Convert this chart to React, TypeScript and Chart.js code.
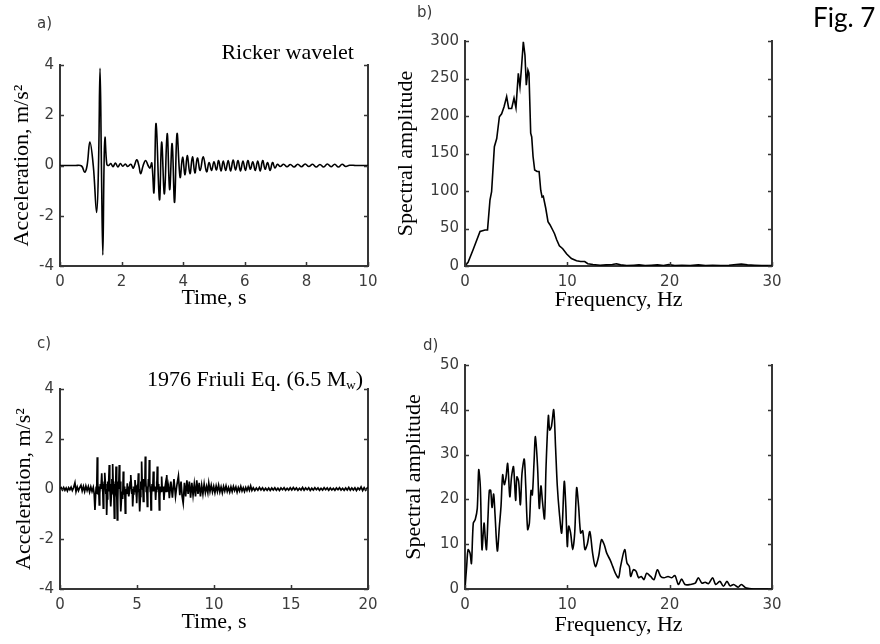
import React, { useEffect, useRef } from "react";
import { Chart, registerables } from "chart.js";

Chart.register(...registerables);

// ---------- DATA ----------
// a) Ricker wavelet acceleration [time s, acceleration m/s²]
const rickerAccel: number[][] = [
  [0, 0], [0.5, 0], [0.7, -0.02], [0.8, -0.27], [0.88, 0], [0.97, 0.93], [1.08, 0], [1.19, -1.87], [1.25, 0], [1.3, 3.87],
  [1.345, 0], [1.39, -3.56], [1.43, 0], [1.46, 1.13], [1.52, 0.05], [1.58, 0], [1.65, 0.08], [1.72, -0.05], [1.8, 0.1], [1.88, -0.06],
  [1.96, 0.08], [2.04, -0.03], [2.12, 0.06], [2.2, -0.04], [2.3, 0.05], [2.38, -0.1], [2.49, 0.23], [2.56, 0], [2.62, -0.33], [2.7, 0],
  [2.78, 0.2], [2.86, 0], [2.92, -0.1], [2.98, 0.1], [3.05, -1.07], [3.12, 1.67], [3.23, -1.36], [3.3, 0.93], [3.39, -1.13], [3.48, 1.27],
  [3.56, -0.96], [3.64, 0.87], [3.72, -1.47], [3.8, 1.27], [3.9, -0.47], [3.98, 0.33], [4.06, -0.37], [4.13, 0.4], [4.22, -0.33], [4.3, 0.35],
  [4.38, -0.3], [4.46, 0.3], [4.55, -0.2], [4.65, 0.35], [4.76, -0.25], [4.84, 0.12], [4.92, -0.2], [5.0, 0.15], [5.08, -0.18], [5.15, 0.2],
  [5.23, -0.22], [5.3, 0.18], [5.38, -0.2], [5.46, 0.2], [5.54, -0.22], [5.62, 0.22], [5.7, -0.18], [5.78, 0.2], [5.86, -0.22], [5.94, 0.18],
  [6.02, -0.2], [6.1, 0.2], [6.18, -0.15], [6.26, 0.15], [6.34, -0.2], [6.42, 0.18], [6.5, -0.22], [6.58, 0.2], [6.66, -0.15], [6.74, 0.12],
  [6.82, -0.2], [6.9, 0.12], [6.98, -0.1], [7.06, 0.05], [7.15, -0.04], [7.26, 0.05], [7.37, -0.05], [7.48, 0.04], [7.6, -0.06], [7.72, 0.05],
  [7.84, -0.05], [7.96, 0.06], [8.08, -0.04], [8.2, 0.05], [8.32, -0.06], [8.44, 0.04], [8.56, -0.06], [8.68, 0.06], [8.8, -0.05], [8.92, 0.05],
  [9.04, -0.06], [9.16, 0.05], [9.28, -0.04], [9.4, 0.01], [9.6, 0], [10, 0],
];

// b) Ricker spectrum [frequency Hz, spectral amplitude]
const rickerSpectrum: number[][] = [
  [0, 0], [0.3, 5], [0.8, 22], [1.47, 46], [1.96, 48], [2.2, 48], [2.44, 88], [2.6, 99], [2.87, 159], [3.1, 170],
  [3.36, 199], [3.58, 203], [3.81, 212], [4.07, 226], [4.27, 210], [4.56, 210], [4.79, 224], [4.98, 211], [5.21, 257], [5.37, 239],
  [5.5, 261], [5.7, 299], [5.86, 281], [5.99, 241], [6.15, 261], [6.25, 257], [6.42, 177], [6.52, 172], [6.65, 146], [6.81, 128],
  [7.04, 126], [7.24, 126], [7.4, 101], [7.53, 92], [7.65, 93], [7.89, 77], [8.11, 59], [8.3, 55], [8.57, 48], [8.75, 43],
  [8.96, 35], [9.22, 27], [9.55, 23], [9.94, 16], [10.4, 10], [10.9, 7], [11.3, 6], [11.7, 6], [12.0, 3], [12.5, 2],
  [13.2, 1], [13.8, 1.5], [14.4, 2], [14.8, 3], [15.2, 1.5], [15.8, 0.5], [16.5, 1], [17.0, 1.5], [17.6, 0.5], [18.2, 1],
  [18.8, 1.5], [19.4, 0.5], [19.9, 2], [20.5, 0.5], [21.2, 1], [22.0, 0.5], [22.8, 1.5], [23.5, 0.5], [24.2, 0.8], [25.0, 0.5],
  [25.8, 1], [26.5, 2], [27.0, 2.5], [27.6, 1.5], [28.3, 1], [29.0, 0.5], [30, 0.5],
];

// c) 1976 Friuli acceleration [time s, acceleration m/s²]
const friuliAccel: number[][] = [
  [0, 0], [0.08, 0.05], [0.16, -0.04], [0.24, 0.06], [0.32, -0.05], [0.4, 0.04], [0.48, -0.08], [0.56, 0.05], [0.64, -0.03], [0.72, 0.07],
  [0.8, -0.06], [0.88, 0.05], [0.97, 0.25], [1.04, -0.1], [1.12, 0.08], [1.2, -0.07], [1.28, 0.06], [1.36, 0.15], [1.44, -0.08], [1.52, 0.1],
  [1.6, -0.1], [1.68, 0.12], [1.76, -0.06], [1.84, 0.1], [1.92, -0.12], [2.0, 0.08], [2.08, -0.1], [2.16, 0.06], [2.22, -0.2], [2.27, -0.84],
  [2.31, -0.3], [2.35, 0.1], [2.38, -0.2], [2.42, 1.27], [2.45, 0.3], [2.48, -0.2], [2.51, 0.1], [2.55, -0.64], [2.58, -0.2], [2.62, 0.2],
  [2.66, 0.0], [2.71, 0.63], [2.74, 0.2], [2.76, -0.1], [2.78, 0.1], [2.81, -0.77], [2.84, -0.3], [2.87, 0.3], [2.89, 0.0], [2.92, 0.65],
  [2.95, 0.2], [2.98, -0.2], [3.0, 0.0], [3.03, -1.04], [3.06, -0.4], [3.1, 0.3], [3.14, -0.1], [3.2, 0.96], [3.23, 0.3], [3.25, -0.1],
  [3.28, 0.2], [3.31, -0.7], [3.34, -0.2], [3.37, 0.4], [3.39, 0.1], [3.42, 1.0], [3.45, 0.3], [3.47, -0.2], [3.5, 0.1], [3.53, -1.17],
  [3.56, -0.4], [3.58, 0.2], [3.61, -0.1], [3.64, 0.9], [3.66, 0.2], [3.68, -0.3], [3.7, 0.0], [3.72, -1.24], [3.75, -0.5], [3.78, 0.3],
  [3.81, 0.0], [3.85, 0.96], [3.88, 0.4], [3.9, 0.1], [3.93, 0.3], [3.96, -0.9], [4.0, -0.3], [4.03, -0.1], [4.07, -0.4], [4.11, 0.7],
  [4.14, 0.2], [4.17, -0.2], [4.2, 0.1], [4.24, -0.97], [4.27, -0.3], [4.3, 0.0], [4.33, -0.2], [4.37, 0.23], [4.42, -0.1], [4.45, 0.1],
  [4.48, -0.3], [4.52, -0.05], [4.55, 0.3], [4.58, 0.0], [4.61, 0.56], [4.64, 0.1], [4.66, -0.2], [4.69, 0.0], [4.72, -0.7], [4.76, -0.2],
  [4.8, 0.1], [4.83, -0.1], [4.87, 0.36], [4.92, 0.0], [4.95, 0.15], [4.98, -0.57], [5.01, -0.1], [5.04, 0.2], [5.06, 0.0], [5.09, 0.63],
  [5.12, 0.2], [5.14, -0.3], [5.16, 0.0], [5.19, -0.9], [5.22, -0.3], [5.25, 0.3], [5.27, 0.0], [5.3, 1.1], [5.33, 0.4], [5.36, 0.1],
  [5.38, 0.3], [5.41, -0.5], [5.45, 0.0], [5.48, 0.4], [5.51, 0.1], [5.54, 1.3], [5.57, 0.4], [5.6, -0.1], [5.63, 0.1], [5.67, -0.7],
  [5.7, -0.2], [5.74, 0.4], [5.77, 0.1], [5.8, 1.16], [5.83, 0.3], [5.86, -0.1], [5.88, 0.1], [5.91, -0.84], [5.94, -0.3], [5.98, 0.2],
  [6.02, -0.1], [6.06, 0.7], [6.1, 0.2], [6.13, -0.1], [6.17, 0.1], [6.21, -0.44], [6.24, -0.1], [6.27, 0.3], [6.29, 0.0], [6.32, 0.9],
  [6.35, 0.3], [6.38, 0.0], [6.41, 0.2], [6.45, -0.84], [6.48, -0.3], [6.52, 0.1], [6.56, -0.1], [6.6, 0.5], [6.63, 0.1], [6.67, -0.1],
  [6.71, 0.1], [6.75, -0.44], [6.8, 0.0], [6.85, 0.2], [6.89, -0.1], [6.93, 0.56], [6.97, 0.1], [7.0, -0.1], [7.05, 0.1], [7.1, -0.37],
  [7.2, 0.3], [7.3, -0.35], [7.4, 0.4], [7.5, -0.3], [7.6, 0.2], [7.69, 0.52], [7.78, -0.25], [7.86, 0.3], [7.93, -0.3], [8.0, -0.57],
  [8.08, 0.25], [8.16, -0.3], [8.24, 0.35], [8.32, -0.2], [8.4, 0.3], [8.48, -0.35], [8.56, 0.25], [8.64, -0.25], [8.72, 0.2], [8.8, -0.3],
  [8.88, 0.35], [8.96, -0.2], [9.04, 0.25], [9.12, -0.3], [9.2, 0.15], [9.28, -0.2], [9.36, 0.2], [9.44, -0.15], [9.52, 0.1], [9.6, -0.15],
  [9.66, 0.23], [9.74, -0.1], [9.82, 0.15], [9.9, -0.12], [9.98, 0.1], [10.06, -0.15], [10.14, 0.12], [10.22, -0.1], [10.3, 0.15], [10.38, -0.12],
  [10.46, 0.08], [10.54, -0.15], [10.62, 0.1], [10.7, -0.08], [10.78, 0.12], [10.86, -0.1], [10.94, 0.06], [11.02, -0.12], [11.1, 0.08], [11.18, -0.1],
  [11.26, 0.1], [11.34, -0.06], [11.42, 0.08], [11.5, -0.12], [11.58, 0.06], [11.66, -0.08], [11.74, 0.1], [11.82, -0.08], [11.9, 0.05], [11.98, -0.1],
  [12.06, 0.06], [12.14, -0.06], [12.22, 0.08], [12.3, -0.05], [12.38, 0.12], [12.46, -0.06], [12.55, 0.05], [12.65, -0.06], [12.75, 0.04], [12.85, -0.05],
  [12.95, 0.06], [13.05, -0.04], [13.15, 0.05], [13.25, -0.06], [13.35, 0.03], [13.45, -0.05], [13.55, 0.04], [13.65, -0.06], [13.75, 0.04], [13.85, -0.04],
  [13.95, 0.05], [14.05, -0.05], [14.15, 0.03], [14.25, -0.06], [14.35, 0.04], [14.45, -0.03], [14.55, 0.05], [14.65, -0.05], [14.75, 0.03], [14.85, -0.04],
  [14.95, 0.05], [15.05, -0.04], [15.15, 0.06], [15.25, -0.03], [15.35, 0.04], [15.45, -0.05], [15.55, 0.03], [15.65, -0.04], [15.75, 0.06], [15.85, -0.05],
  [15.95, 0.04], [16.05, -0.03], [16.15, 0.05], [16.25, -0.06], [16.35, 0.03], [16.45, -0.04], [16.55, 0.05], [16.65, -0.03], [16.75, 0.04], [16.85, -0.05],
  [16.95, 0.03], [17.05, -0.04], [17.15, 0.05], [17.25, -0.03], [17.35, 0.04], [17.45, -0.05], [17.55, 0.04], [17.65, -0.04], [17.75, 0.03], [17.85, -0.05],
  [17.95, 0.04], [18.05, -0.03], [18.15, 0.05], [18.25, -0.04], [18.35, 0.03], [18.45, -0.05], [18.55, 0.04], [18.65, -0.04], [18.75, 0.06], [18.85, -0.05],
  [18.95, 0.04], [19.05, -0.04], [19.15, 0.05], [19.25, -0.06], [19.35, 0.04], [19.45, -0.03], [19.55, 0.08], [19.65, -0.06], [19.75, 0.05], [19.85, -0.05],
  [19.95, 0.04], [20, 0],
];

// d) Friuli spectrum [frequency Hz, spectral amplitude]
const friuliSpectrum: number[][] = [
  [0, 0], [0.16, 5], [0.3, 8.8], [0.49, 8], [0.63, 5.7], [0.81, 14.7], [1.0, 15.5], [1.2, 18], [1.34, 26.6], [1.5, 22.7],
  [1.66, 8.8], [1.86, 14.7], [1.99, 11], [2.1, 8.8], [2.25, 16.2], [2.38, 22], [2.51, 22], [2.64, 18.2], [2.8, 21.2], [2.93, 16.8],
  [3.16, 8.5], [3.36, 14], [3.52, 18.5], [3.68, 25.5], [3.84, 23.3], [4.0, 24.8], [4.17, 28], [4.38, 20.6], [4.55, 25.1], [4.74, 27.3],
  [4.95, 19.8], [5.07, 25], [5.24, 24], [5.41, 18.8], [5.57, 25.8], [5.79, 29], [5.93, 23.3], [6.12, 13.3], [6.29, 14.7], [6.45, 22],
  [6.58, 21], [6.74, 28], [6.88, 34], [7.09, 27.3], [7.26, 18], [7.42, 23], [7.58, 19.3], [7.77, 15.7], [7.92, 27.3], [8.15, 38.7],
  [8.27, 35.5], [8.44, 36.2], [8.67, 40], [8.85, 31.6], [9.02, 23], [9.22, 17], [9.45, 12.5], [9.7, 24], [9.85, 18.5], [10.0, 9.5],
  [10.13, 14], [10.32, 12.5], [10.52, 8.8], [10.72, 12.5], [10.91, 22.6], [11.1, 18.5], [11.3, 12.5], [11.5, 13], [11.72, 8.8], [11.95, 10],
  [12.2, 12.8], [12.47, 8], [12.74, 5], [13.06, 7.3], [13.33, 11], [13.59, 10], [13.85, 8], [14.18, 6.5], [14.44, 5], [14.7, 3.5],
  [15.0, 2.5], [15.2, 5], [15.6, 8.8], [15.83, 5.8], [16.06, 5], [16.19, 2.8], [16.45, 4.3], [16.71, 4], [16.97, 2.5], [17.23, 2.8],
  [17.49, 2.1], [17.75, 3.5], [18.14, 2.8], [18.47, 2.1], [18.8, 4.3], [19.13, 2.8], [19.45, 2.5], [19.84, 2.8], [20.2, 2.5], [20.52, 3],
  [20.85, 1], [21.17, 2.2], [21.5, 1], [22.0, 1], [22.5, 1.3], [22.8, 2.5], [23.15, 1.3], [23.47, 1.5], [23.8, 1.2], [24.2, 2.5],
  [24.5, 1], [24.9, 1.7], [25.25, 0.6], [25.6, 1.7], [25.9, 0.7], [26.25, 1], [26.7, 0.4], [27.0, 1], [27.5, 0.2], [28.2, 0], [30, 0],
];

// axis ranges / tick steps [min, max, step]
const timeRangeA = [0, 10, 2];
const timeRangeC = [0, 20, 5];
const freqRange = [0, 30, 10];
const accelRange = [-4, 4, 2];
const specRangeB = [0, 300, 50];
const specRangeD = [0, 50, 10];

// ---------- STYLE ----------
const AXIS_COLOR = "#363636";
const TICK_COLOR = "#3c3c3c";
const TICK_FONT = { family: "'DejaVu Sans', sans-serif", size: 15 };
const TITLE_FONT = { family: "'Liberation Serif', 'Times New Roman', serif", size: 22 };

const inwardTicks = {
  id: "inwardTicks",
  afterDraw(chart: any) {
    const { ctx, chartArea: a, scales } = chart;
    const x = scales.x;
    const y = scales.y;
    ctx.save();
    ctx.strokeStyle = AXIS_COLOR;
    ctx.lineWidth = 1.5;
    ctx.beginPath();
    x.ticks.forEach((t: any) => {
      const p = Math.round(x.getPixelForValue(t.value)) + 0.5;
      ctx.moveTo(p, a.bottom);
      ctx.lineTo(p, a.bottom - 4);
    });
    y.ticks.forEach((t: any) => {
      const p = Math.round(y.getPixelForValue(t.value)) + 0.5;
      ctx.moveTo(a.left, p);
      ctx.lineTo(a.left + 4, p);
      ctx.moveTo(a.right, p);
      ctx.lineTo(a.right - 4, p);
    });
    ctx.stroke();
    ctx.restore();
  },
};

type PanelCfg = {
  left: number;
  top: number;
  w: number;
  h: number;
  pad: { top: number; right: number; bottom: number; left: number };
  yWidth: number;
  xHeight: number;
  data: number[][];
  xr: number[];
  yr: number[];
  xTitle: string;
  yTitle: string;
  xTitlePad: number;
  yTitlePad: number;
  tension: number;
  lineWidth: number;
};

function zeroPad(s: any) {
  s.paddingLeft = 0;
  s.paddingRight = 0;
  s.paddingTop = 0;
  s.paddingBottom = 0;
}

function Panel({ cfg }: { cfg: PanelCfg }) {
  const ref = useRef<HTMLCanvasElement>(null);
  useEffect(() => {
    const chart = new Chart(ref.current as HTMLCanvasElement, {
      type: "line",
      data: {
        datasets: [
          {
            data: cfg.data.map((p) => ({ x: p[0], y: p[1] })),
            borderColor: "#000",
            borderWidth: cfg.lineWidth,
            pointRadius: 0,
            tension: cfg.tension,
            fill: false,
            xAxisID: "x",
            yAxisID: "y",
          },
        ],
      },
      options: {
        animation: false,
        responsive: false,
        maintainAspectRatio: false,
        devicePixelRatio: 1,
        layout: { padding: cfg.pad },
        plugins: { legend: { display: false }, tooltip: { enabled: false } },
        scales: {
          x: {
            type: "linear",
            position: "bottom",
            min: cfg.xr[0],
            max: cfg.xr[1],
            ticks: { stepSize: cfg.xr[2], font: TICK_FONT, color: TICK_COLOR, padding: 7, maxRotation: 0, autoSkip: false },
            grid: { display: false, drawTicks: false },
            border: { display: true, color: AXIS_COLOR, width: 2 },
            title: { display: true, text: cfg.xTitle, font: TITLE_FONT, color: "#000", padding: { top: 0, bottom: cfg.xTitlePad } },
            afterFit: (s: any) => {
              s.height = cfg.xHeight;
              zeroPad(s);
            },
          },
          y: {
            type: "linear",
            position: "left",
            min: cfg.yr[0],
            max: cfg.yr[1],
            ticks: { stepSize: cfg.yr[2], font: TICK_FONT, color: TICK_COLOR, padding: 6 },
            grid: { display: false, drawTicks: false },
            border: { display: true, color: AXIS_COLOR, width: 2 },
            title: { display: true, text: cfg.yTitle, font: TITLE_FONT, color: "#000", padding: { top: cfg.yTitlePad, bottom: 0 } },
            afterFit: (s: any) => {
              s.width = cfg.yWidth;
              zeroPad(s);
            },
          },
          y2: {
            type: "linear",
            position: "right",
            min: cfg.yr[0],
            max: cfg.yr[1],
            ticks: { display: false },
            grid: { display: false, drawTicks: false },
            border: { display: true, color: AXIS_COLOR, width: 2 },
            afterFit: (s: any) => {
              s.width = 12;
              zeroPad(s);
            },
          },
        },
      } as any,
      plugins: [inwardTicks],
    });
    return () => chart.destroy();
  }, []);
  return (
    <canvas
      ref={ref}
      width={cfg.w}
      height={cfg.h}
      style={{ position: "absolute", left: cfg.left, top: cfg.top, width: cfg.w, height: cfg.h }}
    />
  );
}

const panels: PanelCfg[] = [
  {
    left: 0, top: 0, w: 430, h: 320,
    pad: { top: 65, right: 50, bottom: 4, left: 0 },
    yWidth: 60, xHeight: 50,
    data: rickerAccel, xr: timeRangeA, yr: accelRange,
    xTitle: "Time, s", yTitle: "Acceleration, m/s²",
    xTitlePad: 5, yTitlePad: 9, tension: 0.4, lineWidth: 1.6,
  },
  {
    left: 390, top: 0, w: 440, h: 320,
    pad: { top: 41, right: 46, bottom: 4, left: 0 },
    yWidth: 75, xHeight: 50,
    data: rickerSpectrum, xr: freqRange, yr: specRangeB,
    xTitle: "Frequency, Hz", yTitle: "Spectral amplitude",
    xTitlePad: 3, yTitlePad: 3, tension: 0, lineWidth: 1.6,
  },
  {
    left: 0, top: 322, w: 430, h: 322,
    pad: { top: 67, right: 50, bottom: 5, left: 0 },
    yWidth: 60, xHeight: 50,
    data: friuliAccel, xr: timeRangeC, yr: accelRange,
    xTitle: "Time, s", yTitle: "Acceleration, m/s²",
    xTitlePad: 4, yTitlePad: 11, tension: 0, lineWidth: 1.7,
  },
  {
    left: 390, top: 322, w: 440, h: 322,
    pad: { top: 43, right: 46, bottom: 5, left: 0 },
    yWidth: 75, xHeight: 50,
    data: friuliSpectrum, xr: freqRange, yr: specRangeD,
    xTitle: "Frequency, Hz", yTitle: "Spectral amplitude",
    xTitlePad: 1, yTitlePad: 11, tension: 0.3, lineWidth: 1.6,
  },
];

const labelStyle: React.CSSProperties = {
  position: "absolute",
  fontFamily: "'DejaVu Sans', sans-serif",
  fontSize: 15,
  lineHeight: "15px",
  color: "#3a3a3a",
  whiteSpace: "nowrap",
};
const serifStyle: React.CSSProperties = {
  position: "absolute",
  fontFamily: "'Liberation Serif', 'Times New Roman', serif",
  fontSize: 22,
  lineHeight: "22px",
  color: "#000",
  whiteSpace: "nowrap",
};

export default function App() {
  return (
    <div style={{ position: "absolute", left: 0, top: 0, width: 880, height: 644, background: "#fff", overflow: "hidden" }}>
      {panels.map((p, i) => (
        <Panel key={i} cfg={p} />
      ))}
      <div style={{ ...labelStyle, left: 37, top: 16 }}>a)</div>
      <div style={{ ...labelStyle, left: 417, top: 5 }}>b)</div>
      <div style={{ ...labelStyle, left: 37, top: 336 }}>c)</div>
      <div style={{ ...labelStyle, left: 423, top: 338 }}>d)</div>
      <div style={{ ...serifStyle, right: 880 - 354, top: 41 }}>Ricker wavelet</div>
      <div style={{ ...serifStyle, right: 880 - 363, top: 368 }}>
        1976 Friuli Eq. (6.5 M<span style={{ fontSize: 13, position: "relative", top: 3 }}>w</span>)
      </div>
      <div
        style={{
          position: "absolute",
          left: 813,
          top: 3,
          fontFamily: "Lato, 'Open Sans', sans-serif",
          fontSize: 26,
          lineHeight: "28px",
          color: "#000",
          whiteSpace: "nowrap",
        }}
      >
        Fig. 7
      </div>
    </div>
  );
}
